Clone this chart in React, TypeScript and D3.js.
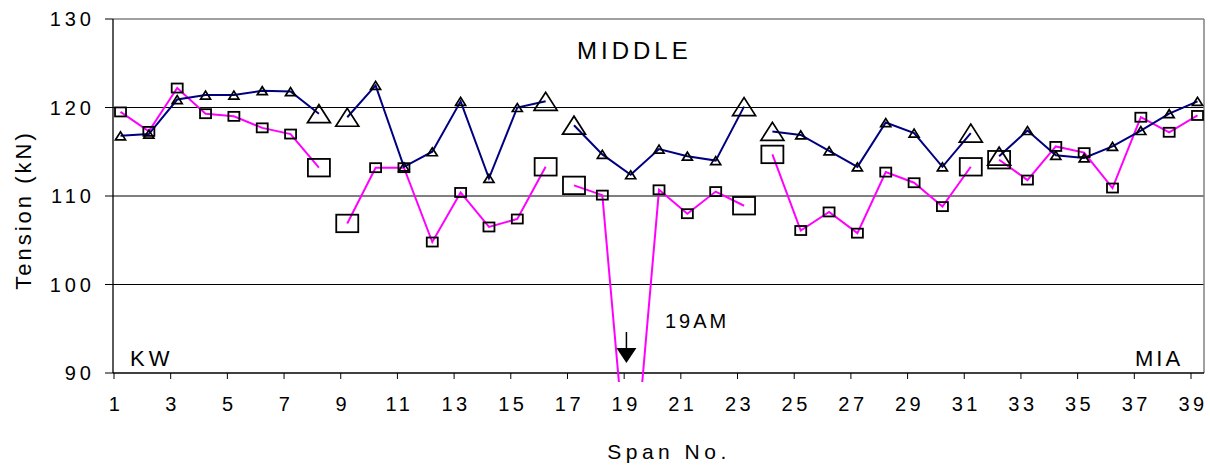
import React from "react";
import * as d3 from "d3";

// ---- data ----
const spans = [1, 2, 3, 4, 5, 6, 7, 8, 9, 10, 11, 12, 13, 14, 15, 16, 17, 18, 19, 20,
  21, 22, 23, 24, 25, 26, 27, 28, 29, 30, 31, 32, 33, 34, 35, 36, 37, 38, 39];
const triangleSeries = [116.8, 117.0, 120.9, 121.4, 121.4, 121.9, 121.8, 119.3, 118.9, 122.5,
  113.3, 115.0, 120.7, 112.0, 120.0, 120.7, 118.0, 114.7, 112.4, 115.3,
  114.5, 114.0, 120.1, 117.3, 116.9, 115.1, 113.3, 118.3, 117.1, 113.3,
  117.1, 114.5, 117.4, 114.6, 114.3, 115.6, 117.4, 119.3, 120.7];
const squareSeries = [119.5, 117.3, 122.2, 119.3, 119.0, 117.7, 117.0, 113.2, 106.9, 113.2,
  113.2, 104.8, 110.4, 106.5, 107.4, 113.3, 111.2, 110.1, 74.0, 110.7,
  108.0, 110.5, 108.9, 114.7, 106.1, 108.2, 105.8, 112.7, 111.5, 108.8,
  113.3, 114.1, 111.8, 115.6, 114.9, 110.9, 118.9, 117.2, 119.1];
// line breaks after these spans; large markers at the section ends
const sectionBreaks = [8, 16, 23, 31];
const anchorSpans = [8, 9, 16, 17, 23, 24, 31, 32];
const xTickLabels = [1, 3, 5, 7, 9, 11, 13, 15, 17, 19, 21, 23, 25, 27, 29, 31, 33, 35, 37, 39];
const yTickValues = [90, 100, 110, 120, 130];
const gridValues = [100, 110, 120];

const W = 1210, H = 468;
const plot = { left: 113, right: 1204, top: 19, bottom: 373 };
const FONT = "'Liberation Sans', Arial, sans-serif";

const x = d3.scaleLinear().domain([1, 39]).range([114, 1191]);
const y = d3.scaleLinear().domain([90, 130]).range([plot.bottom, plot.top]);
const markerOffset = 0.23;

type Pt = { s: number; v: number };
function segments(values: number[]): Pt[][] {
  const segs: Pt[][] = [];
  let cur: Pt[] = [];
  spans.forEach((s, i) => {
    cur.push({ s, v: values[i] });
    if (sectionBreaks.includes(s)) { segs.push(cur); cur = []; }
  });
  if (cur.length) segs.push(cur);
  return segs;
}

const line = d3.line<Pt>().x(d => x(d.s + markerOffset)).y(d => y(d.v));

function tri(cx: number, cy: number, w: number, h: number) {
  return `M${cx - w / 2},${cy + h / 2}L${cx},${cy - h / 2}L${cx + w / 2},${cy + h / 2}Z`;
}

export default function App() {
  const triSegs = segments(triangleSeries);
  const sqSegs = segments(squareSeries);
  const arrowX = x(19.08);
  return (
    <svg width={W} height={H} style={{ position: "absolute", left: 0, top: 0, background: "#fff" }}
      fontFamily={FONT}>
      <defs>
        <clipPath id="pc">
          <rect x={plot.left} y={plot.top} width={plot.right - plot.left} height={plot.bottom - plot.top + 9} />
        </clipPath>
      </defs>
      <rect x={0} y={0} width={W} height={H} fill="#fff" />
      {/* grid */}
      {gridValues.map(v => (
        <line key={v} x1={plot.left} x2={plot.right} y1={y(v)} y2={y(v)} stroke="#000" strokeWidth={1} />
      ))}
      <line x1={plot.left} x2={plot.right} y1={y(130)} y2={y(130)} stroke="#808080" strokeWidth={1.5} />
      <line x1={plot.right} x2={plot.right} y1={plot.top} y2={plot.bottom} stroke="#808080" strokeWidth={1.5} />
      {/* axes */}
      <line x1={plot.left} x2={plot.left} y1={plot.top} y2={plot.bottom} stroke="#000" strokeWidth={1.3} />
      <line x1={plot.left} x2={plot.right} y1={plot.bottom} y2={plot.bottom} stroke="#000" strokeWidth={1.3} />
      {yTickValues.map(v => (
        <g key={v}>
          <line x1={plot.left - 8} x2={plot.left} y1={y(v)} y2={y(v)} stroke="#000" strokeWidth={1} />
          <text x={95} y={y(v)} dy="0.35em" textAnchor="end" fontSize={20} letterSpacing={4}>{v}</text>
        </g>
      ))}
      {xTickLabels.map(t => (
        <g key={t}>
          <line x1={x(t)} x2={x(t)} y1={plot.bottom} y2={plot.bottom + 6} stroke="#000" strokeWidth={1} />
          <text x={x(t) + 2} y={404} dy="0.35em" textAnchor="middle" fontSize={20} letterSpacing={3.5}>{t}</text>
        </g>
      ))}
      {/* series */}
      <g clipPath="url(#pc)">
        {sqSegs.map((seg, i) => (
          <path key={"s" + i} d={line(seg) || ""} fill="none" stroke="#ff00ff" strokeWidth={2} />
        ))}
        {triSegs.map((seg, i) => (
          <path key={"t" + i} d={line(seg) || ""} fill="none" stroke="#000080" strokeWidth={2} />
        ))}
        {spans.map((s, i) => {
          const big = anchorSpans.includes(s);
          const cx = x(s + markerOffset), cy = y(squareSeries[i]);
          const w = big ? 22 : 11, h = big ? 17.5 : 9;
          return <rect key={"sq" + s} x={cx - w / 2} y={cy - h / 2} width={w} height={h}
            fill="none" stroke="#000" strokeWidth={1.8} />;
        })}
        {spans.map((s, i) => {
          const big = anchorSpans.includes(s);
          const cx = x(s + markerOffset), cy = y(triangleSeries[i]);
          return <path key={"tr" + s} d={tri(cx, cy, big ? 23 : 10, big ? 18 : 8)}
            fill="none" stroke="#000" strokeWidth={1.7} strokeLinejoin="miter" />;
        })}
      </g>
      {/* annotations */}
      <text x={577} y={59} fontSize={24} letterSpacing={4}>MIDDLE</text>
      <text x={130} y={366} fontSize={22} letterSpacing={4}>KW</text>
      <text x={1135} y={366} fontSize={22} letterSpacing={3}>MIA</text>
      <text x={665} y={328} fontSize={20} letterSpacing={3}>19AM</text>
      <line x1={arrowX} x2={arrowX} y1={332} y2={350} stroke="#000" strokeWidth={1.5} />
      <path d={`M${arrowX - 10},348L${arrowX + 10},348L${arrowX},363Z`} fill="#000" />
      <text x={669} y={452} dy="0.35em" textAnchor="middle" fontSize={21} letterSpacing={4.5}>Span No.</text>
      <text transform={`translate(23,210) rotate(-90)`} textAnchor="middle" dy="0.35em" fontSize={22} letterSpacing={3}>Tension (kN)</text>
    </svg>
  );
}
